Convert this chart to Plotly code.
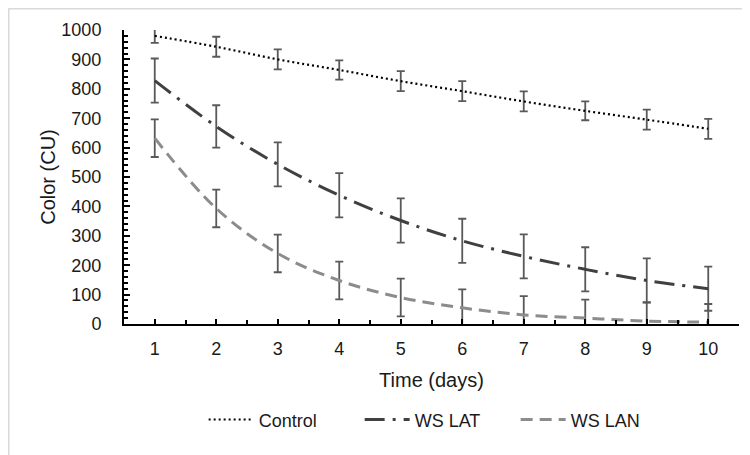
import plotly.graph_objects as go

days = [1, 2, 3, 4, 5, 6, 7, 8, 9, 10]
control = [980, 943, 900, 864, 826, 792, 757, 725, 695, 664]
control_err = [24, 34, 34, 33, 34, 34, 34, 32, 34, 34]
ws_lat = [828, 672, 543, 438, 352, 283, 230, 186, 148, 120]
ws_lat_err = [75, 72, 75, 75, 75, 75, 75, 75, 75, 75]
ws_lan = [632, 393, 240, 148, 90, 55, 31, 20, 10, 6]
ws_lan_err = [64, 64, 64, 64, 64, 63, 64, 63, 64, 62]
tick_labels = ["1", "2", "3", "4", "5", "6", "7", "8", "9", "10"]

err_style = dict(type="data", visible=True, color="#595959", thickness=1.8, width=4)

fig = go.Figure()
fig.add_trace(go.Scatter(
    x=days, y=control, name="Control", mode="lines",
    line=dict(color="#000000", width=2.2, dash="2px,3px", shape="spline"),
    error_y=dict(array=control_err, **err_style)))
fig.add_trace(go.Scatter(
    x=days, y=ws_lat, name="WS LAT", mode="lines",
    line=dict(color="#404040", width=3, dash="20px,8px,3px,8px", shape="spline"),
    error_y=dict(array=ws_lat_err, **err_style)))
fig.add_trace(go.Scatter(
    x=days, y=ws_lan, name="WS LAN", mode="lines",
    line=dict(color="#8c8c8c", width=3, dash="12px,7px", shape="spline"),
    error_y=dict(array=ws_lan_err, **err_style)))

font_fam = "Liberation Sans, Arial, sans-serif"

fig.update_layout(
    width=742, height=447,
    margin=dict(l=116, r=11, t=22, b=131, autoexpand=False),
    paper_bgcolor="white", plot_bgcolor="white",
    font=dict(family=font_fam, size=18, color="#1a1a1a"),
    showlegend=True,
    legend=dict(orientation="h", x=0.51, xanchor="center", y=-0.263, yanchor="top",
                font=dict(size=18, color="#1a1a1a"), itemwidth=45, entrywidth=96,
                tracegroupgap=0),
    xaxis=dict(
        range=[0.5, 10.5], tickmode="array", tickvals=days, ticktext=tick_labels,
        showline=True, linecolor="#000000", linewidth=2,
        ticks="inside", ticklen=5, tickwidth=2, tickcolor="#000000",
        minor=dict(ticks="inside", ticklen=4, tickwidth=2, tickcolor="#000000", dtick=0.5, tick0=0.5),
        showgrid=False, zeroline=False, ticklabelstandoff=7, automargin=False,
        tickfont=dict(size=18),
        title=dict(text="Time (days)", font=dict(size=20), standoff=15),
    ),
    yaxis=dict(
        range=[0, 1000], dtick=100, tick0=0,
        showline=True, linecolor="#000000", linewidth=2,
        ticks="inside", ticklen=6, tickwidth=2, tickcolor="#000000",
        minor=dict(ticks="inside", ticklen=4, tickwidth=1.5, tickcolor="#000000", dtick=20),
        showgrid=False, zeroline=False, ticklabelstandoff=17, automargin=False,
        tickfont=dict(size=18),
        title=dict(text="Color (CU)", font=dict(size=20), standoff=0),
    ),
    shapes=[
        dict(type="line", xref="paper", yref="paper", x0=-0.1878, x1=1.05, y0=1.073, y1=1.073,
             line=dict(color="#d9d9d9", width=2)),
        dict(type="line", xref="paper", yref="paper", x0=-0.1878, x1=-0.1878, y0=1.073, y1=-0.6,
             line=dict(color="#d9d9d9", width=2)),
    ],
)

fig.write_html("out.html")
